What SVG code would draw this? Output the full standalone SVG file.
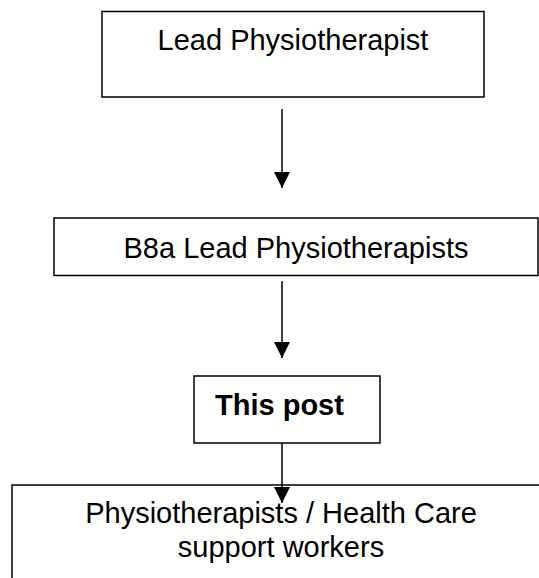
<svg xmlns="http://www.w3.org/2000/svg" width="539" height="578" viewBox="0 0 539 578">
<style>
.box{fill:#fff;stroke:#000;stroke-width:1.5}
.t{font-family:"Liberation Sans",Arial,sans-serif;font-size:29px;fill:#000;text-anchor:middle}
.b{font-weight:bold;text-anchor:start}
.c{stroke:#000;stroke-width:1.5;fill:none;marker-end:url(#ah)}
</style>
<defs>
<marker id="ah" markerUnits="userSpaceOnUse" markerWidth="16" markerHeight="16" refX="16" refY="8" orient="auto" viewBox="0 0 16 16">
<path d="M0,0 L16,8 L0,16 Z" fill="#000"/>
</marker>
</defs>
<g id="n1"><rect class="box" x="102" y="11.5" width="382" height="85.5"/><text class="t" x="293" y="50">Lead Physiotherapist</text></g>
<g id="n2"><rect class="box" x="54" y="218" width="484" height="57.5"/><text class="t" x="296" y="258">B8a Lead Physiotherapists</text></g>
<g id="n3"><rect class="box" x="194" y="376" width="186" height="67"/><text class="t b" x="215" y="415">This post</text></g>
<g id="n4"><rect class="box" x="12" y="485" width="540" height="110"/><text class="t" x="281" y="523">Physiotherapists / Health Care</text><text class="t" x="281" y="557">support workers</text></g>
<g id="connectors">
<line class="c" x1="282" y1="109" x2="282" y2="188"/>
<line class="c" x1="282" y1="281" x2="282" y2="358"/>
<line class="c" x1="282" y1="443" x2="282" y2="503"/>
</g>
</svg>
